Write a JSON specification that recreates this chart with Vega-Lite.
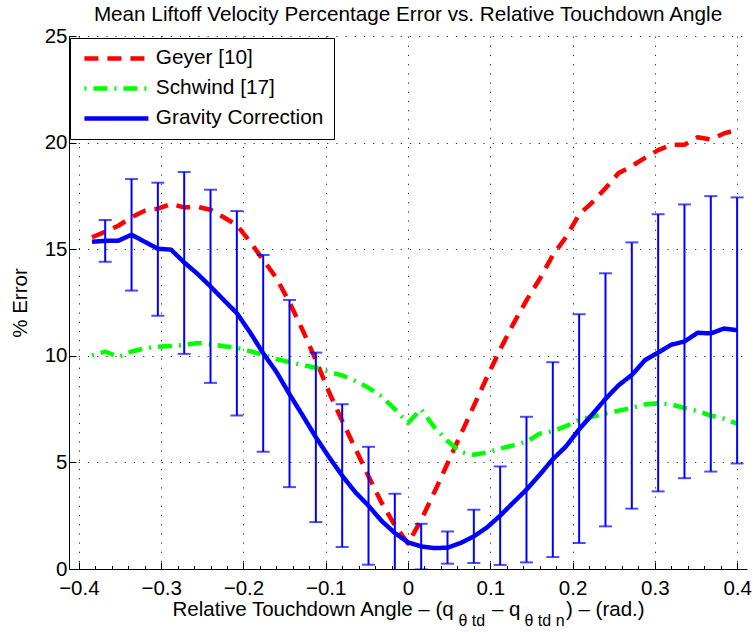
{
  "$schema": "https://vega.github.io/schema/vega-lite/v6.json",
  "width": 678,
  "height": 533,
  "autosize": {"type": "none"},
  "padding": {"left": 69, "top": 36, "right": 8, "bottom": 64},
  "background": "white",
  "config": {
    "font": "Liberation Sans",
    "view": {"stroke": null},
    "axis": {
      "labelFont": "Liberation Sans",
      "labelFontSize": 20.5,
      "labelColor": "black",
      "labelFlush": false,
      "labelOverlap": false,
      "titleFont": "Liberation Sans",
      "titleFontSize": 20.5,
      "titleFontWeight": "normal",
      "titleColor": "black",
      "domainColor": "black",
      "domainWidth": 1,
      "tickColor": "black",
      "tickWidth": 1,
      "gridColor": "#000000",
      "gridDash": [1.2, 8],
      "gridWidth": 1,
      "gridOpacity": 0.85
    }
  },
  "title": {
    "text": "Mean Liftoff Velocity Percentage Error vs. Relative Touchdown Angle",
    "frame": "group",
    "anchor": "middle",
    "baseline": "alphabetic",
    "offset": 4,
    "dy": 20,
    "font": "Liberation Sans",
    "fontSize": 20.7,
    "fontWeight": "normal",
    "color": "black"
  },
  "datasets": {
    "lines": [
      {"x": -0.384, "v": 15.56, "s": "Geyer [10]"},
      {"x": -0.368, "v": 15.82, "s": "Geyer [10]"},
      {"x": -0.352, "v": 16.1, "s": "Geyer [10]"},
      {"x": -0.336, "v": 16.5, "s": "Geyer [10]"},
      {"x": -0.32, "v": 16.8, "s": "Geyer [10]"},
      {"x": -0.304, "v": 16.9, "s": "Geyer [10]"},
      {"x": -0.288, "v": 17.12, "s": "Geyer [10]"},
      {"x": -0.272, "v": 16.96, "s": "Geyer [10]"},
      {"x": -0.256, "v": 16.99, "s": "Geyer [10]"},
      {"x": -0.24, "v": 16.85, "s": "Geyer [10]"},
      {"x": -0.224, "v": 16.5, "s": "Geyer [10]"},
      {"x": -0.208, "v": 16.13, "s": "Geyer [10]"},
      {"x": -0.192, "v": 15.35, "s": "Geyer [10]"},
      {"x": -0.176, "v": 14.5, "s": "Geyer [10]"},
      {"x": -0.16, "v": 13.65, "s": "Geyer [10]"},
      {"x": -0.144, "v": 12.5, "s": "Geyer [10]"},
      {"x": -0.128, "v": 11.2, "s": "Geyer [10]"},
      {"x": -0.112, "v": 9.8, "s": "Geyer [10]"},
      {"x": -0.096, "v": 8.3, "s": "Geyer [10]"},
      {"x": -0.08, "v": 6.95, "s": "Geyer [10]"},
      {"x": -0.064, "v": 5.65, "s": "Geyer [10]"},
      {"x": -0.048, "v": 4.35, "s": "Geyer [10]"},
      {"x": -0.032, "v": 3.1, "s": "Geyer [10]"},
      {"x": -0.016, "v": 2.05, "s": "Geyer [10]"},
      {"x": 0, "v": 1.2, "s": "Geyer [10]"},
      {"x": 0.016, "v": 2.3, "s": "Geyer [10]"},
      {"x": 0.032, "v": 3.6, "s": "Geyer [10]"},
      {"x": 0.048, "v": 4.95, "s": "Geyer [10]"},
      {"x": 0.064, "v": 6.3, "s": "Geyer [10]"},
      {"x": 0.08, "v": 7.65, "s": "Geyer [10]"},
      {"x": 0.096, "v": 9.0, "s": "Geyer [10]"},
      {"x": 0.112, "v": 10.3, "s": "Geyer [10]"},
      {"x": 0.128, "v": 11.5, "s": "Geyer [10]"},
      {"x": 0.144, "v": 12.6, "s": "Geyer [10]"},
      {"x": 0.16, "v": 13.6, "s": "Geyer [10]"},
      {"x": 0.176, "v": 14.72, "s": "Geyer [10]"},
      {"x": 0.192, "v": 15.57, "s": "Geyer [10]"},
      {"x": 0.208, "v": 16.63, "s": "Geyer [10]"},
      {"x": 0.224, "v": 17.2, "s": "Geyer [10]"},
      {"x": 0.24, "v": 17.86, "s": "Geyer [10]"},
      {"x": 0.256, "v": 18.57, "s": "Geyer [10]"},
      {"x": 0.272, "v": 18.9, "s": "Geyer [10]"},
      {"x": 0.288, "v": 19.28, "s": "Geyer [10]"},
      {"x": 0.304, "v": 19.65, "s": "Geyer [10]"},
      {"x": 0.32, "v": 19.9, "s": "Geyer [10]"},
      {"x": 0.336, "v": 19.9, "s": "Geyer [10]"},
      {"x": 0.352, "v": 20.25, "s": "Geyer [10]"},
      {"x": 0.368, "v": 20.15, "s": "Geyer [10]"},
      {"x": 0.384, "v": 20.43, "s": "Geyer [10]"},
      {"x": 0.4, "v": 20.6, "s": "Geyer [10]"},
      {"x": -0.384, "v": 10.02, "s": "Schwind [17]"},
      {"x": -0.368, "v": 10.2, "s": "Schwind [17]"},
      {"x": -0.352, "v": 9.95, "s": "Schwind [17]"},
      {"x": -0.336, "v": 10.2, "s": "Schwind [17]"},
      {"x": -0.32, "v": 10.35, "s": "Schwind [17]"},
      {"x": -0.304, "v": 10.43, "s": "Schwind [17]"},
      {"x": -0.288, "v": 10.46, "s": "Schwind [17]"},
      {"x": -0.272, "v": 10.5, "s": "Schwind [17]"},
      {"x": -0.256, "v": 10.6, "s": "Schwind [17]"},
      {"x": -0.24, "v": 10.55, "s": "Schwind [17]"},
      {"x": -0.224, "v": 10.45, "s": "Schwind [17]"},
      {"x": -0.208, "v": 10.38, "s": "Schwind [17]"},
      {"x": -0.192, "v": 10.22, "s": "Schwind [17]"},
      {"x": -0.176, "v": 10.04, "s": "Schwind [17]"},
      {"x": -0.16, "v": 9.85, "s": "Schwind [17]"},
      {"x": -0.144, "v": 9.7, "s": "Schwind [17]"},
      {"x": -0.128, "v": 9.57, "s": "Schwind [17]"},
      {"x": -0.112, "v": 9.44, "s": "Schwind [17]"},
      {"x": -0.096, "v": 9.24, "s": "Schwind [17]"},
      {"x": -0.08, "v": 9.08, "s": "Schwind [17]"},
      {"x": -0.064, "v": 8.82, "s": "Schwind [17]"},
      {"x": -0.048, "v": 8.5, "s": "Schwind [17]"},
      {"x": -0.032, "v": 8.1, "s": "Schwind [17]"},
      {"x": -0.016, "v": 7.5, "s": "Schwind [17]"},
      {"x": 0, "v": 6.85, "s": "Schwind [17]"},
      {"x": 0.016, "v": 7.5, "s": "Schwind [17]"},
      {"x": 0.032, "v": 6.65, "s": "Schwind [17]"},
      {"x": 0.048, "v": 6.0, "s": "Schwind [17]"},
      {"x": 0.064, "v": 5.48, "s": "Schwind [17]"},
      {"x": 0.08, "v": 5.36, "s": "Schwind [17]"},
      {"x": 0.096, "v": 5.47, "s": "Schwind [17]"},
      {"x": 0.112, "v": 5.65, "s": "Schwind [17]"},
      {"x": 0.128, "v": 5.8, "s": "Schwind [17]"},
      {"x": 0.144, "v": 5.97, "s": "Schwind [17]"},
      {"x": 0.16, "v": 6.35, "s": "Schwind [17]"},
      {"x": 0.176, "v": 6.47, "s": "Schwind [17]"},
      {"x": 0.192, "v": 6.7, "s": "Schwind [17]"},
      {"x": 0.208, "v": 7.0, "s": "Schwind [17]"},
      {"x": 0.224, "v": 7.14, "s": "Schwind [17]"},
      {"x": 0.24, "v": 7.3, "s": "Schwind [17]"},
      {"x": 0.256, "v": 7.43, "s": "Schwind [17]"},
      {"x": 0.272, "v": 7.56, "s": "Schwind [17]"},
      {"x": 0.288, "v": 7.72, "s": "Schwind [17]"},
      {"x": 0.304, "v": 7.78, "s": "Schwind [17]"},
      {"x": 0.32, "v": 7.72, "s": "Schwind [17]"},
      {"x": 0.336, "v": 7.55, "s": "Schwind [17]"},
      {"x": 0.352, "v": 7.4, "s": "Schwind [17]"},
      {"x": 0.368, "v": 7.2, "s": "Schwind [17]"},
      {"x": 0.384, "v": 7.05, "s": "Schwind [17]"},
      {"x": 0.4, "v": 6.82, "s": "Schwind [17]"},
      {"x": -0.384, "v": 15.35, "s": "Gravity Correction"},
      {"x": -0.368, "v": 15.39, "s": "Gravity Correction"},
      {"x": -0.352, "v": 15.4, "s": "Gravity Correction"},
      {"x": -0.336, "v": 15.68, "s": "Gravity Correction"},
      {"x": -0.32, "v": 15.35, "s": "Gravity Correction"},
      {"x": -0.304, "v": 15.02, "s": "Gravity Correction"},
      {"x": -0.288, "v": 14.98, "s": "Gravity Correction"},
      {"x": -0.272, "v": 14.38, "s": "Gravity Correction"},
      {"x": -0.256, "v": 13.85, "s": "Gravity Correction"},
      {"x": -0.24, "v": 13.25, "s": "Gravity Correction"},
      {"x": -0.224, "v": 12.62, "s": "Gravity Correction"},
      {"x": -0.208, "v": 12.0, "s": "Gravity Correction"},
      {"x": -0.192, "v": 11.1, "s": "Gravity Correction"},
      {"x": -0.176, "v": 10.12, "s": "Gravity Correction"},
      {"x": -0.16, "v": 9.25, "s": "Gravity Correction"},
      {"x": -0.144, "v": 8.2, "s": "Gravity Correction"},
      {"x": -0.128, "v": 7.2, "s": "Gravity Correction"},
      {"x": -0.112, "v": 6.18, "s": "Gravity Correction"},
      {"x": -0.096, "v": 5.25, "s": "Gravity Correction"},
      {"x": -0.08, "v": 4.38, "s": "Gravity Correction"},
      {"x": -0.064, "v": 3.6, "s": "Gravity Correction"},
      {"x": -0.048, "v": 2.97, "s": "Gravity Correction"},
      {"x": -0.032, "v": 2.25, "s": "Gravity Correction"},
      {"x": -0.016, "v": 1.69, "s": "Gravity Correction"},
      {"x": 0, "v": 1.25, "s": "Gravity Correction"},
      {"x": 0.016, "v": 1.06, "s": "Gravity Correction"},
      {"x": 0.032, "v": 0.98, "s": "Gravity Correction"},
      {"x": 0.048, "v": 1.0, "s": "Gravity Correction"},
      {"x": 0.064, "v": 1.22, "s": "Gravity Correction"},
      {"x": 0.08, "v": 1.53, "s": "Gravity Correction"},
      {"x": 0.096, "v": 1.95, "s": "Gravity Correction"},
      {"x": 0.112, "v": 2.5, "s": "Gravity Correction"},
      {"x": 0.128, "v": 3.12, "s": "Gravity Correction"},
      {"x": 0.144, "v": 3.72, "s": "Gravity Correction"},
      {"x": 0.16, "v": 4.42, "s": "Gravity Correction"},
      {"x": 0.176, "v": 5.15, "s": "Gravity Correction"},
      {"x": 0.192, "v": 5.75, "s": "Gravity Correction"},
      {"x": 0.208, "v": 6.55, "s": "Gravity Correction"},
      {"x": 0.224, "v": 7.25, "s": "Gravity Correction"},
      {"x": 0.24, "v": 7.98, "s": "Gravity Correction"},
      {"x": 0.256, "v": 8.62, "s": "Gravity Correction"},
      {"x": 0.272, "v": 9.1, "s": "Gravity Correction"},
      {"x": 0.288, "v": 9.8, "s": "Gravity Correction"},
      {"x": 0.304, "v": 10.15, "s": "Gravity Correction"},
      {"x": 0.32, "v": 10.52, "s": "Gravity Correction"},
      {"x": 0.336, "v": 10.67, "s": "Gravity Correction"},
      {"x": 0.352, "v": 11.08, "s": "Gravity Correction"},
      {"x": 0.368, "v": 11.05, "s": "Gravity Correction"},
      {"x": 0.384, "v": 11.28, "s": "Gravity Correction"},
      {"x": 0.4, "v": 11.2, "s": "Gravity Correction"}
    ],
    "bars": [
      {"x": -0.368, "lo": 14.41, "hi": 16.37},
      {"x": -0.336, "lo": 13.06, "hi": 18.29},
      {"x": -0.304, "lo": 11.88, "hi": 18.12},
      {"x": -0.272, "lo": 10.09, "hi": 18.62},
      {"x": -0.24, "lo": 8.73, "hi": 17.79},
      {"x": -0.208, "lo": 7.2, "hi": 16.79},
      {"x": -0.176, "lo": 5.5, "hi": 14.73},
      {"x": -0.144, "lo": 3.84, "hi": 12.62},
      {"x": -0.112, "lo": 2.2, "hi": 10.15},
      {"x": -0.08, "lo": 1.03, "hi": 7.73},
      {"x": -0.048, "lo": 0.2, "hi": 5.73},
      {"x": -0.016, "lo": -0.15, "hi": 3.53},
      {"x": 0.016, "lo": -0.02, "hi": 2.12},
      {"x": 0.048, "lo": 0.25, "hi": 1.76},
      {"x": 0.08, "lo": 0.28, "hi": 2.78},
      {"x": 0.112, "lo": 0.19, "hi": 4.81},
      {"x": 0.144, "lo": 0.31, "hi": 7.14},
      {"x": 0.176, "lo": 0.56, "hi": 9.7},
      {"x": 0.208, "lo": 1.22, "hi": 11.95},
      {"x": 0.24, "lo": 2.0, "hi": 13.87},
      {"x": 0.272, "lo": 2.83, "hi": 15.32},
      {"x": 0.304, "lo": 3.64, "hi": 16.64},
      {"x": 0.336, "lo": 4.26, "hi": 17.1},
      {"x": 0.368, "lo": 4.57, "hi": 17.49},
      {"x": 0.4, "lo": 4.95, "hi": 17.43}
    ]
  },
  "layer": [
    {
      "data": {"name": "lines"},
      "mark": {"type": "line", "strokeWidth": 4.5, "strokeCap": "butt", "strokeJoin": "round", "clip": true},
      "encoding": {
        "x": {
          "field": "x",
          "type": "quantitative",
          "scale": {"domain": [-0.412, 0.412], "nice": false, "zero": false},
          "axis": {
            "orient": "bottom",
            "values": [-0.4, -0.3, -0.2, -0.1, 0, 0.1, 0.2, 0.3, 0.4],
            "format": ".1~f",
            "grid": true,
            "tickSize": -7,
            "labelPadding": 16,
            "title": "Relative Touchdown Angle – (q\u00a0\u00a0\u00a0\u00a0\u00a0\u2009 – q\u00a0\u00a0\u00a0\u00a0\u00a0\u00a0\u00a0\u00a0) – (rad.)",
            "titleX": 103,
            "titleY": 46,
            "titleAlign": "left",
            "titleBaseline": "alphabetic"
          }
        },
        "y": {
          "field": "v",
          "type": "quantitative",
          "scale": {"domain": [0, 25], "nice": false, "zero": false},
          "axis": {
            "values": [0, 5, 10, 15, 20, 25],
            "grid": true,
            "tickSize": -7,
            "labelPadding": 9,
            "title": "% Error",
            "titleAngle": -90,
            "titleX": -42.5,
            "titleY": 266.5,
            "titleAlign": "center",
            "titleBaseline": "alphabetic"
          }
        },
        "color": {
          "field": "s",
          "type": "nominal",
          "scale": {
            "domain": ["Geyer [10]", "Schwind [17]", "Gravity Correction"],
            "range": ["#ff0000", "#00ff00", "#0000ff"]
          },
          "legend": {
            "title": null,
            "orient": "none",
            "legendX": 1,
            "legendY": 2,
            "fillColor": "white",
            "strokeColor": "black",
            "padding": 10,
            "symbolType": "M-16,0H16",
            "symbolSize": 16,
            "symbolStrokeWidth": 4.5,
            "symbolOffset": 26,
            "labelOffset": 29,
            "labelFont": "Liberation Sans",
            "labelFontSize": 20.8,
            "labelColor": "black",
            "labelLimit": 400,
            "rowPadding": 8
          }
        },
        "strokeDash": {
          "field": "s",
          "type": "nominal",
          "scale": {
            "domain": ["Geyer [10]", "Schwind [17]", "Gravity Correction"],
            "range": [[14, 9], [2, 7, 14, 7], [1, 0]]
          },
          "legend": {
            "title": null,
            "orient": "none",
            "legendX": 1,
            "legendY": 2,
            "fillColor": "white",
            "strokeColor": "black",
            "padding": 10,
            "symbolType": "M-16,0H16",
            "symbolSize": 16,
            "symbolStrokeWidth": 4.5,
            "symbolOffset": 26,
            "labelOffset": 29,
            "labelFont": "Liberation Sans",
            "labelFontSize": 20.8,
            "labelColor": "black",
            "labelLimit": 400,
            "rowPadding": 8
          }
        }
      }
    },
    {
      "data": {"name": "bars"},
      "mark": {"type": "rule", "color": "#0000ff", "strokeWidth": 2, "clip": true},
      "encoding": {
        "x": {
          "field": "x",
          "type": "quantitative",
          "scale": {"domain": [-0.412, 0.412], "nice": false, "zero": false},
          "axis": {
            "orient": "bottom",
            "values": [-0.4, -0.38, -0.36, -0.34, -0.32, -0.3, -0.28, -0.26, -0.24, -0.22, -0.2, -0.18, -0.16, -0.14, -0.12, -0.1, -0.08, -0.06, -0.04, -0.02, 0, 0.02, 0.04, 0.06, 0.08, 0.1, 0.12, 0.14, 0.16, 0.18, 0.2, 0.22, 0.24, 0.26, 0.28, 0.3, 0.32, 0.34, 0.36, 0.38, 0.4],
            "labels": false,
            "domain": false,
            "grid": false,
            "tickSize": -3.5,
            "title": "θ td",
            "titleFontSize": 16,
            "titleX": 389,
            "titleY": 56,
            "titleAlign": "left",
            "titleBaseline": "alphabetic"
          }
        },
        "y": {
          "field": "lo",
          "type": "quantitative",
          "scale": {"domain": [0, 25], "nice": false, "zero": false},
          "axis": {
            "values": [0, 5, 10, 15, 20, 25],
            "grid": true,
            "tickSize": -7,
            "labelPadding": 9,
            "title": "% Error",
            "titleAngle": -90,
            "titleX": -42.5,
            "titleY": 266.5,
            "titleAlign": "center",
            "titleBaseline": "alphabetic"
          }
        },
        "y2": {"field": "hi"}
      }
    },
    {
      "data": {"name": "bars"},
      "encoding": {
        "x": {
          "field": "x",
          "type": "quantitative",
          "scale": {"domain": [-0.412, 0.412], "nice": false, "zero": false},
          "axis": {
            "orient": "bottom",
            "labels": false,
            "ticks": false,
            "domain": false,
            "grid": false,
            "title": "θ td n",
            "titleFontSize": 16,
            "titleX": 455,
            "titleY": 56,
            "titleAlign": "left",
            "titleBaseline": "alphabetic"
          }
        }
      },
      "layer": [
        {
          "mark": {"type": "tick", "orient": "horizontal", "color": "#0000ff", "size": 13, "thickness": 2, "clip": true},
          "encoding": {
            "y": {
              "field": "lo",
              "type": "quantitative",
              "scale": {"domain": [0, 25], "nice": false, "zero": false},
              "axis": {
                "values": [0, 5, 10, 15, 20, 25],
                "grid": true,
                "tickSize": -7,
                "labelPadding": 9,
                "title": "% Error",
                "titleAngle": -90,
                "titleX": -42.5,
                "titleY": 266.5,
                "titleAlign": "center",
                "titleBaseline": "alphabetic"
              }
            }
          }
        },
        {
          "mark": {"type": "tick", "orient": "horizontal", "color": "#0000ff", "size": 13, "thickness": 2, "clip": true},
          "encoding": {
            "y": {
              "field": "hi",
              "type": "quantitative",
              "scale": {"domain": [0, 25], "nice": false, "zero": false},
              "axis": {
                "values": [0, 5, 10, 15, 20, 25],
                "grid": true,
                "tickSize": -7,
                "labelPadding": 9,
                "title": "% Error",
                "titleAngle": -90,
                "titleX": -42.5,
                "titleY": 266.5,
                "titleAlign": "center",
                "titleBaseline": "alphabetic"
              }
            }
          }
        }
      ]
    }
  ],
  "resolve": {"scale": {"x": "independent"}, "axis": {"x": "independent"}}
}
